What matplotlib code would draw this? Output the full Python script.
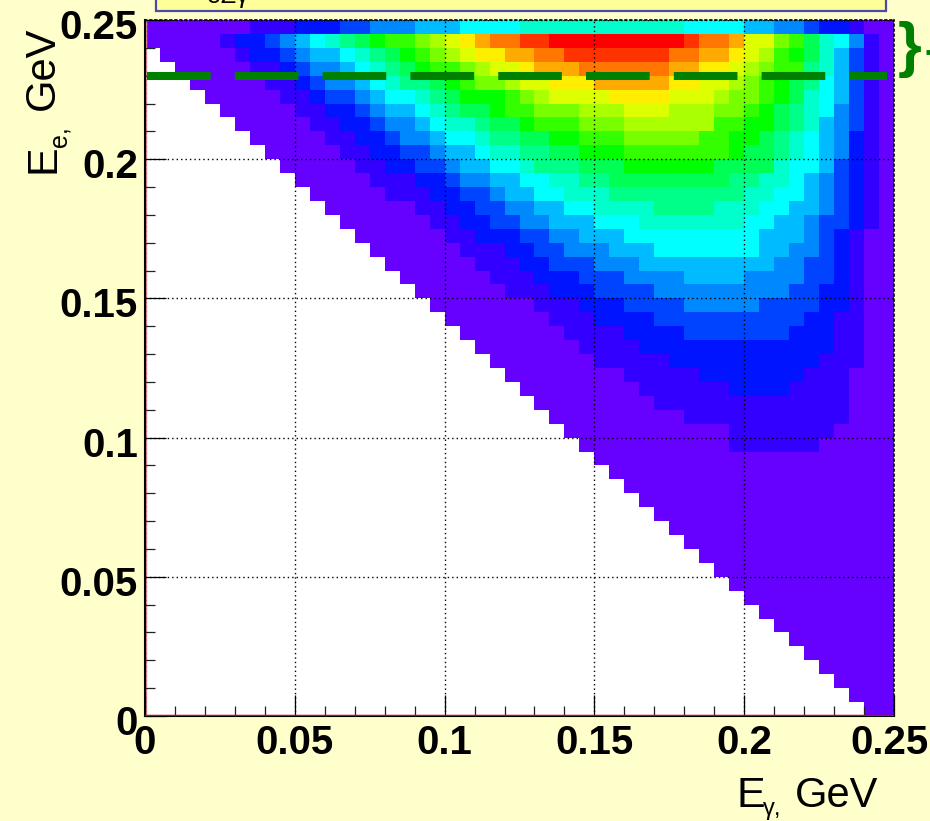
import numpy as np
import matplotlib
matplotlib.use("Agg")
import matplotlib.pyplot as plt
from matplotlib.colors import ListedColormap, BoundaryNorm
from matplotlib.patches import Rectangle
from matplotlib.ticker import MultipleLocator, FixedFormatter, FixedLocator
from matplotlib.transforms import ScaledTranslation

plt.rcParams['font.family'] = ['Liberation Sans', 'DejaVu Sans']

# contour level of each bin, written as (level, first column), top row first
# level -1 is an empty bin
level_rows = [
    [(0,0),(1,7),(2,10),(3,13),(4,15),(5,18),(6,21),(7,25),(6,36),(5,40),(4,42),(3,44),(2,45),(1,47),(0,48)],
    [(0,0),(1,5),(2,6),(3,8),(4,9),(5,10),(6,11),(7,12),(8,13),(9,14),(10,15),(11,16),(12,18),(13,19),(14,20),(15,21),(16,22),(17,23),(18,25),(19,27),(18,36),(17,37),(16,39),(14,40),(12,42),(11,43),(9,44),(7,45),(6,46),(4,47),(1,48),(0,49)],
    [(-1,0),(0,1),(1,6),(2,7),(3,9),(4,10),(5,11),(6,13),(7,14),(8,15),(9,16),(10,17),(11,18),(12,19),(13,20),(14,21),(15,22),(16,24),(17,26),(18,28),(17,35),(16,37),(15,39),(14,40),(13,41),(11,42),(10,43),(9,44),(7,45),(5,46),(3,47),(1,48),(0,49)],
    [(-1,0),(0,2),(1,7),(2,9),(3,10),(4,11),(5,13),(6,14),(7,15),(8,16),(9,17),(10,18),(11,19),(12,21),(13,22),(14,23),(15,25),(16,26),(17,29),(16,35),(15,37),(14,39),(13,40),(12,41),(11,42),(8,44),(7,45),(5,46),(3,47),(1,48),(0,49)],
    [(-1,0),(0,3),(1,8),(2,10),(3,11),(4,12),(5,14),(6,15),(7,16),(8,17),(9,19),(10,20),(11,21),(12,22),(13,24),(14,25),(15,27),(16,30),(15,35),(14,37),(13,39),(12,40),(11,41),(10,42),(9,43),(8,44),(6,45),(5,46),(3,47),(1,48),(0,49)],
    [(-1,0),(0,4),(1,9),(2,11),(3,12),(4,14),(5,15),(6,16),(7,18),(8,19),(9,20),(10,21),(11,24),(12,25),(13,26),(14,27),(15,31),(14,35),(13,38),(12,39),(11,41),(10,42),(9,43),(7,44),(6,45),(5,46),(3,47),(1,48),(0,49)],
    [(-1,0),(0,5),(1,10),(2,12),(3,14),(4,15),(5,16),(6,18),(7,19),(8,20),(9,21),(10,23),(11,24),(12,26),(13,29),(14,32),(13,35),(12,38),(11,40),(10,41),(9,42),(8,43),(7,44),(6,45),(4,46),(3,47),(1,48),(0,49)],
    [(-1,0),(0,6),(1,11),(2,13),(3,15),(4,16),(5,18),(6,19),(7,20),(8,22),(9,23),(10,25),(11,26),(12,29),(13,32),(11,38),(10,40),(9,42),(8,43),(7,44),(5,45),(4,46),(3,47),(1,48),(0,49)],
    [(-1,0),(0,7),(1,12),(2,14),(3,16),(4,17),(5,19),(6,20),(7,22),(8,23),(9,25),(10,27),(11,29),(12,32),(11,37),(10,39),(9,41),(8,42),(7,43),(6,44),(5,45),(4,46),(2,47),(1,48),(0,49)],
    [(-1,0),(0,8),(1,13),(2,15),(3,17),(4,19),(5,20),(6,22),(7,23),(8,25),(9,27),(10,29),(11,32),(10,39),(9,40),(8,42),(7,43),(6,44),(5,45),(4,46),(2,47),(1,48),(0,49)],
    [(-1,0),(0,9),(1,14),(2,16),(3,18),(4,20),(5,21),(6,23),(7,25),(8,26),(9,29),(10,32),(9,38),(7,42),(6,43),(5,45),(3,46),(2,47),(1,48),(0,49)],
    [(-1,0),(0,10),(1,15),(2,18),(3,20),(4,21),(5,23),(6,25),(7,27),(8,29),(9,31),(8,39),(7,41),(6,43),(5,44),(4,45),(3,46),(2,47),(1,48),(0,49)],
    [(-1,0),(0,11),(1,16),(2,19),(3,21),(4,23),(5,24),(6,26),(7,28),(8,31),(7,40),(6,42),(5,44),(4,45),(3,46),(2,47),(1,48),(0,49)],
    [(-1,0),(0,12),(1,18),(2,20),(3,22),(4,24),(5,26),(6,28),(7,30),(8,34),(7,38),(6,41),(5,43),(4,45),(3,46),(2,47),(1,48),(0,49)],
    [(-1,0),(0,13),(1,19),(2,21),(3,23),(4,25),(5,27),(6,30),(7,33),(6,40),(5,42),(4,44),(3,45),(2,47),(1,48),(0,49)],
    [(-1,0),(0,14),(1,20),(2,22),(3,25),(4,27),(5,29),(6,32),(5,41),(4,44),(3,45),(2,46),(1,47),(0,48)],
    [(-1,0),(0,15),(1,21),(2,24),(3,26),(4,28),(5,31),(6,34),(5,41),(4,43),(3,45),(2,46),(1,47),(0,48)],
    [(-1,0),(0,16),(1,22),(2,25),(3,27),(4,30),(5,33),(4,42),(3,44),(2,46),(1,47),(0,48)],
    [(-1,0),(0,17),(1,23),(2,26),(3,29),(4,32),(5,36),(4,40),(3,44),(2,46),(1,47),(0,48)],
    [(-1,0),(0,18),(1,24),(2,27),(3,30),(4,34),(3,43),(2,45),(1,47),(0,48)],
    [(-1,0),(0,19),(1,26),(2,29),(3,32),(4,36),(3,41),(2,45),(1,47),(0,48)],
    [(-1,0),(0,20),(1,27),(2,30),(3,34),(2,44),(1,46),(0,48)],
    [(-1,0),(0,21),(1,28),(2,32),(3,36),(2,43),(1,46),(0,48)],
    [(-1,0),(0,22),(1,29),(2,33),(1,46),(0,48)],
    [(-1,0),(0,23),(1,30),(2,35),(1,45),(0,48)],
    [(-1,0),(0,24),(1,32),(2,37),(1,44),(0,47)],
    [(-1,0),(0,25),(1,33),(2,39),(1,43),(0,47)],
    [(-1,0),(0,26),(1,34),(0,47)],
    [(-1,0),(0,27),(1,36),(0,47)],
    [(-1,0),(0,28),(1,39),(0,46)],
    [(-1,0),(0,29),(1,39),(0,45)],
    [(-1,0),(0,30)],
    [(-1,0),(0,31)],
    [(-1,0),(0,32)],
    [(-1,0),(0,33)],
    [(-1,0),(0,34)],
    [(-1,0),(0,35)],
    [(-1,0),(0,36)],
    [(-1,0),(0,37)],
    [(-1,0),(0,38)],
    [(-1,0),(0,39)],
    [(-1,0),(0,40)],
    [(-1,0),(0,41)],
    [(-1,0),(0,42)],
    [(-1,0),(0,43)],
    [(-1,0),(0,44)],
    [(-1,0),(0,45)],
    [(-1,0),(0,46)],
    [(-1,0),(0,47)],
    [(-1,0),(0,48)],
]
level_colors = ['#6600ff', '#3300ff', '#0014ff', '#0044ff', '#0088ff',
                '#00bbff', '#00ffff', '#00ffcc', '#00ff88', '#00ff55',
                '#00ff00', '#33ff00', '#77ff00', '#aaff00', '#ddff00',
                '#ffee00', '#ffaa00', '#ff7700', '#ff3300', '#ff0000']
x_ticks = [0, 0.05, 0.1, 0.15, 0.2, 0.25]
y_ticks = [0, 0.05, 0.1, 0.15, 0.2, 0.25]
tick_labels = ['0', '0.05', '0.1', '0.15', '0.2', '0.25']
cut_energy = 0.23
n_bins = 50
bin_edges = np.linspace(0, 0.25, n_bins + 1)

grid = np.full((n_bins, n_bins), np.nan)
for t, row in enumerate(level_rows):
    for level, first in row:
        grid[t, first:] = level
grid = grid[::-1]
grid[grid < 0] = np.nan

BG = '#ffffcc'
W, H = 930, 821
fig = plt.figure(figsize=(W / 100, H / 100), dpi=100, facecolor=BG)
ax = fig.add_axes([145 / W, (H - 716) / H, 749 / W, 696 / H])

cmap = ListedColormap(level_colors)
norm = BoundaryNorm(np.arange(-0.5, 20), cmap.N)
ax.pcolormesh(bin_edges, bin_edges, grid, cmap=cmap, norm=norm, linewidth=0, rasterized=True)
ax.set_xlim(0, 0.25)
ax.set_ylim(0, 0.25)
ax.set_facecolor('white')

ax.xaxis.set_major_locator(FixedLocator(x_ticks))
ax.yaxis.set_major_locator(FixedLocator(y_ticks))
ax.xaxis.set_major_formatter(FixedFormatter(tick_labels))
ax.yaxis.set_major_formatter(FixedFormatter(tick_labels))
ax.xaxis.set_minor_locator(MultipleLocator(0.01))
ax.yaxis.set_minor_locator(MultipleLocator(0.01))
ax.tick_params(which='major', direction='in', length=15, width=0.9, color='black', labelsize=29, pad=5)
ax.tick_params(which='minor', direction='in', length=7, width=0.9, color='#222222')
ax.tick_params(axis='x', pad=6)
for lab in ax.get_xticklabels() + ax.get_yticklabels():
    lab.set_fontweight('bold')

# the y labels sit a little below their ticks, the last x label a little to the left
for lab in ax.get_yticklabels():
    lab.set_transform(lab.get_transform() + ScaledTranslation(0, -4 / 100, fig.dpi_scale_trans))
last_x = ax.get_xticklabels()[-1]
last_x.set_transform(last_x.get_transform() + ScaledTranslation(-5 / 100, 0, fig.dpi_scale_trans))

ax.grid(True, which='major', color='black', linestyle=(0, (1, 2.2)), linewidth=1.0)
ax.set_axisbelow(False)

ax.spines['left'].set_linewidth(1.5)
ax.spines['bottom'].set_linewidth(1.5)
for side in ['top', 'right']:
    ax.spines[side].set_linestyle((0, (1, 2)))
    ax.spines[side].set_linewidth(1.2)

# thin red frame just inside the left and bottom axes
ax.axhline(0.0005, color='#e00000', lw=1.0, zorder=3)
ax.axvline(0.0005, color='#e89090', lw=1.0, zorder=1.5)

ax.plot([0.0007, 0.2475], [cut_energy, cut_energy], color='#008000', lw=5.8,
        dashes=(7.9, 3.0), dash_capstyle='butt', zorder=4)

# everything outside the frame placed in pixel coordinates
over = fig.add_axes([0, 0, 1, 1], facecolor='none')
over.set_xlim(0, W)
over.set_ylim(H, 0)
over.axis('off')

over.add_patch(Rectangle((155.5, -10), 730, 21, facecolor='#ffff99', edgecolor='#4a4aa8', lw=1.6))
over.text(207, 3.5, 'eZγ', fontsize=18, color='black', ha='left', va='baseline', clip_on=True)

over.text(736, 807, 'E', fontsize=31, ha='left', va='baseline')
over.text(763, 815, 'γ,', fontsize=17, ha='left', va='baseline')
over.text(795, 807, 'GeV', fontsize=30, ha='left', va='baseline')

over.text(54, 173, 'E', fontsize=31, rotation=90, ha='left', va='baseline', rotation_mode='anchor')
over.text(66, 147, 'e,', fontsize=18, rotation=90, ha='left', va='baseline', rotation_mode='anchor')
over.text(54, 110, 'GeV', fontsize=30, rotation=90, ha='left', va='baseline', rotation_mode='anchor')

over.text(898, 50, '}', fontsize=44, fontweight='bold', color='#008000', ha='left', va='center')
over.plot([926, 930], [52, 52], color='#008000', lw=3.5, solid_capstyle='butt')

fig.savefig('out.png', dpi=100, facecolor=BG)
